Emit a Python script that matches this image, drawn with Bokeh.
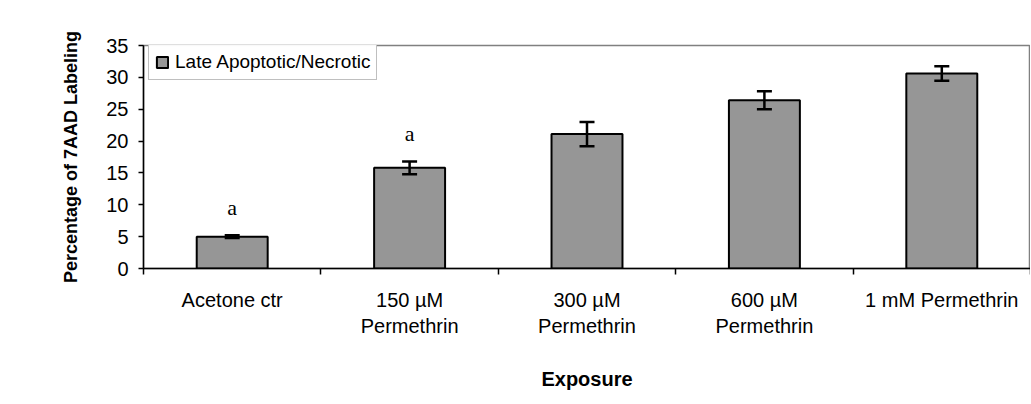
from bokeh.plotting import figure
from bokeh.models import (ColumnDataSource, Range1d, LinearAxis,
                          FixedTicker, Whisker, TeeHead, Legend, LegendItem)
from bokeh.core.properties import value
from bokeh.embed import file_html
from bokeh.resources import INLINE

categories = ["Acetone ctr", "150 µM\nPermethrin", "300 µM\nPermethrin", "600 µM\nPermethrin", "1 mM Permethrin"]
late_apoptotic = [5.0, 15.8, 21.1, 26.4, 30.6]
errors = [0.2, 1.0, 1.9, 1.4, 1.15]
sig_labels = ["a", "a", "", "", ""]
y_ticks = [0, 5, 10, 15, 20, 25, 30, 35]

n = len(categories)
xpos = [i + 0.5 for i in range(n)]
upper = [v + e for v, e in zip(late_apoptotic, errors)]
lower = [v - e for v, e in zip(late_apoptotic, errors)]
src = ColumnDataSource(dict(x=xpos, top=late_apoptotic, upper=upper, lower=lower, sig=sig_labels))

FONT = "Liberation Sans"

p = figure(x_range=Range1d(0, n), y_range=Range1d(0, 35),
           width=1030, height=403, output_backend="svg", toolbar_location=None,
           x_axis_location=None, y_axis_location=None,
           min_border_left=143, min_border_top=45, min_border_right=0, min_border_bottom=135)
p.xgrid.visible = False
p.ygrid.visible = False
p.outline_line_color = "#808080"
p.outline_line_width = 1.5
p.background_fill_color = "white"
p.border_fill_color = "white"

# y axis
yax = LinearAxis(ticker=FixedTicker(ticks=y_ticks), axis_label="Percentage of 7AAD Labeling")
yax.axis_label_text_font = FONT
yax.axis_label_text_font_style = "bold"
yax.axis_label_text_font_size = "18px"
yax.axis_label_text_color = "black"
yax.axis_label_standoff = 22
yax.major_label_text_font = FONT
yax.major_label_text_font_size = "20px"
yax.major_label_text_color = "black"
yax.major_label_standoff = 10
yax.major_tick_out = 5
yax.major_tick_in = 0
yax.minor_tick_line_color = None
yax.axis_line_color = "black"
yax.axis_line_width = 1.5
yax.major_tick_line_width = 1.5
yax.major_tick_line_color = "black"
p.add_layout(yax, "left")

# category axis: labels at centres, tick marks at boundaries
xax = LinearAxis(ticker=FixedTicker(ticks=xpos, minor_ticks=list(range(n + 1))),
                 axis_label="Exposure",
                 major_label_overrides={x: c for x, c in zip(xpos, categories)})
xax.axis_line_color = "black"
xax.axis_line_width = 1.5
xax.major_tick_line_color = None
xax.major_tick_out = 6
xax.major_tick_in = 0
xax.minor_tick_line_color = "black"
xax.minor_tick_line_width = 1.5
xax.minor_tick_out = 6
xax.minor_tick_in = 0
xax.major_label_text_font = FONT
xax.major_label_text_font_size = "20px"
xax.major_label_text_color = "black"
xax.major_label_standoff = 14
xax.axis_label_text_font = FONT
xax.axis_label_text_font_style = "bold"
xax.axis_label_text_font_size = "20px"
xax.axis_label_text_color = "black"
xax.axis_label_standoff = 28
p.add_layout(xax, "below")

bars = p.vbar(x="x", top="top", width=0.4, source=src, fill_color="#969696",
              line_color="black", line_width=2)

w = Whisker(base="x", upper="upper", lower="lower", source=src, line_width=2.5, line_color="black",
            level="annotation",
            upper_head=TeeHead(size=15, line_width=2.5, line_color="black"),
            lower_head=TeeHead(size=15, line_width=2.5, line_color="black"))
p.add_layout(w)

p.text(x="x", y="upper", text="sig", source=src, text_font=value("Liberation Serif"),
       text_font_size="22px", text_align="center", text_baseline="alphabetic", y_offset=-28,
       text_color="black")

legend = Legend(items=[LegendItem(label="Late Apoptotic/Necrotic", renderers=[bars])],
                location=(5, 188))
legend.label_text_font = FONT
legend.label_text_font_size = "19px"
legend.label_text_color = "black"
legend.border_line_color = "#808080"
legend.border_line_width = 1
legend.margin = 0
legend.padding = 6
legend.spacing = 0
legend.glyph_width = 14
legend.glyph_height = 14
legend.label_standoff = 6
legend.label_height = 20
p.add_layout(legend)

open("out.html", "w").write(file_html(p, INLINE))
